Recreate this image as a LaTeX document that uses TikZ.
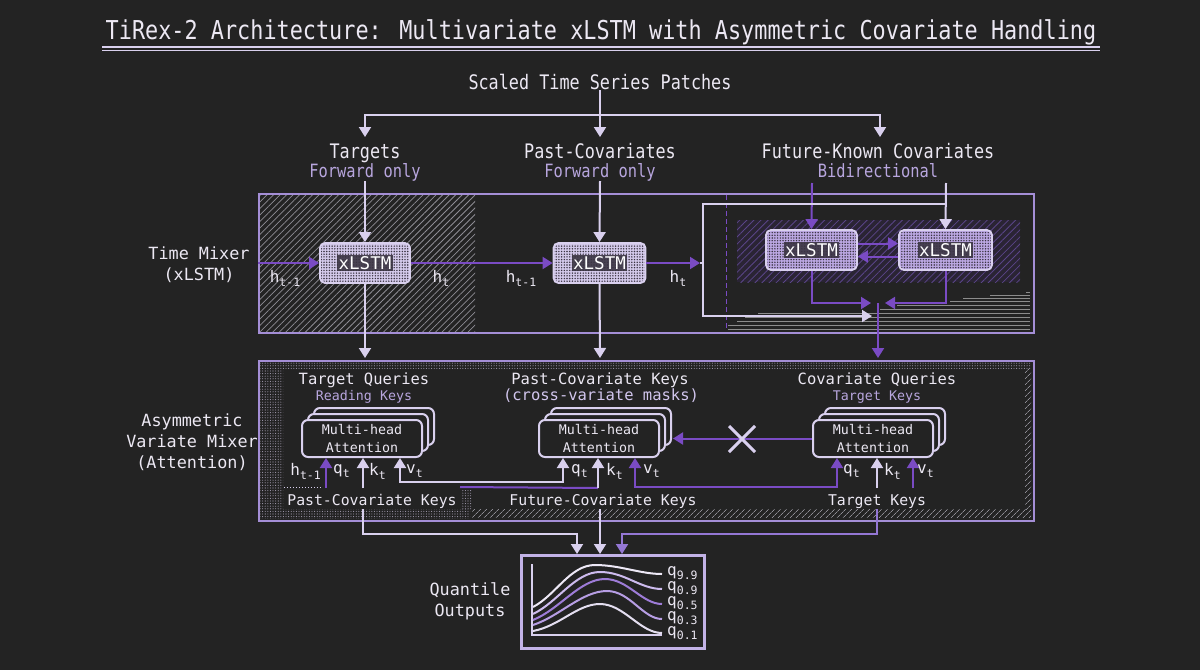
\documentclass[tikz,border=0pt]{standalone}
\usepackage{fontspec}
\setmainfont{DejaVu Sans Mono}
\newfontfamily\condfont[FakeStretch=0.84]{DejaVu Sans Mono}
\usetikzlibrary{arrows.meta,patterns,patterns.meta,calc}
\definecolor{bgc}{HTML}{232323}
\definecolor{txt}{HTML}{ECE8F3}
\definecolor{lavline}{HTML}{D9D0EE}
\definecolor{frame}{HTML}{A48ED6}
\definecolor{qframe}{HTML}{C2B2E6}
\definecolor{pur}{HTML}{7A4BC4}
\definecolor{mpur}{HTML}{9477D4}
\definecolor{subtxt}{HTML}{B8A6DE}
\definecolor{subtxtb}{HTML}{D2C6EE}
\definecolor{hatchc}{HTML}{8E8C94}
\definecolor{phatch}{HTML}{5A4588}
\definecolor{pfill}{HTML}{2A2434}
\definecolor{boxlav}{HTML}{D3C9EA}
\definecolor{boxpur}{HTML}{BBA7E2}
\definecolor{dotc}{HTML}{3A3442}
\definecolor{dotband}{HTML}{A39CB0}
\definecolor{stripe}{HTML}{8C8C8C}
\definecolor{cq1}{HTML}{EDE8F6}
\definecolor{cq2}{HTML}{CDBBEE}
\definecolor{cq3}{HTML}{9E7CD8}
\definecolor{cq4}{HTML}{B79EE4}
\definecolor{cq5}{HTML}{E4DEF0}
\newcommand\szTitle{\condfont\fontsize{26}{30}\selectfont}
\newcommand\szTop{\condfont\fontsize{20}{24}\selectfont}
\newcommand\szTopSub{\condfont\fontsize{18.3}{22}\selectfont}
\newcommand\szLab{\fontsize{16.8}{21}\selectfont}
\newcommand\szMid{\fontsize{15.5}{19}\selectfont}
\newcommand\szKey{\fontsize{14.8}{18}\selectfont}
\newcommand\szSmall{\fontsize{13.3}{18}\selectfont}
\newcommand\lowsub[1]{\raisebox{-0.45ex}{\fontsize{11.5}{12}\selectfont #1}}
\tikzset{
  tip/.style={-{Triangle[length=10pt,width=12pt]}},
  twotip/.style={{Triangle[length=10pt,width=12pt]}-{Triangle[length=10pt,width=12pt]}},
  lw/.style={line width=2pt},
  larr/.style={tip, lw, draw=lavline},
  parr/.style={tip, lw, draw=pur},
  marr/.style={tip, lw, draw=mpur},
  lline/.style={lw, draw=lavline},
  pline/.style={lw, draw=pur},
  ltwo/.style={twotip, lw, draw=lavline},
  ptwo/.style={twotip, lw, draw=pur},
  lab/.style={text=txt, font=\szLab, align=center, inner sep=1pt},
  toplab/.style={text=txt, font=\szTop, inner sep=1pt},
  topsub/.style={text=subtxt, font=\szTopSub, inner sep=1pt},
  sublab/.style={text=subtxt, font=\szMid, inner sep=1pt},
  keylab/.style={text=txt, font=\szKey, inner sep=1pt},
  hlab/.style={text=txt, font=\fontsize{16}{16}\selectfont, inner sep=0pt},
  xbox/.style={draw=lavline, line width=1.8pt, rounded corners=5pt, minimum height=40pt, inner sep=0pt},
  xtext/.style={fill=dotc, fill opacity=0.9, text opacity=1, text=white, font=\fontsize{17.5}{20}\selectfont, inner sep=1.5pt},
  mha/.style={draw=lavline, line width=2pt, fill=bgc, rounded corners=6pt, minimum width=120pt, minimum height=37pt, align=center, font=\szSmall, text=txt, inner sep=0pt},
  frm/.style={draw=frame, line width=2pt, inner sep=0pt, anchor=north west},
}
\begin{document}
\begin{tikzpicture}[x=1pt,y=-1pt]
\useasboundingbox (0,0) rectangle (1200,670);
\fill[bgc] (0,0) rectangle (1200,670);

% ---------- title ----------
\node[font=\szTitle, text=txt, anchor=base, inner sep=0pt] (title) at (601,39) {TiRex-2 Architecture: Multivariate xLSTM with Asymmetric Covariate Handling};
\draw[lavline, line width=1.3pt] (102,47) -- (1100,47);
\draw[lavline, line width=1.3pt] (102,50.5) -- (1100,50.5);

% ---------- inputs ----------
\node[toplab, anchor=base] (patches) at (600,89) {Scaled Time Series Patches};
\coordinate (br) at (600,115);
\coordinate (t1) at (365,137);
\coordinate (t2) at (600,137);
\coordinate (t3) at (880,137);
\draw[larr] (patches.south) -- (t2);
\draw[larr] (br) -| (t1);
\draw[larr] (br) -| (t3);

\node[toplab, anchor=base] (tgt) at (365,158) {Targets};
\node[topsub, anchor=base] (tgtsub) at (365,177) {Forward only};
\node[toplab, anchor=base] (pc) at (600,158) {Past-Covariates};
\node[topsub, anchor=base] (pcsub) at (600,177) {Forward only};
\node[toplab, anchor=base] (fk) at (878,158) {Future-Known Covariates};
\node[topsub, anchor=base] (fksub) at (878,177) {Bidirectional};

% ---------- time mixer ----------
\node[lab] (tmlab) at (199,264.5) {Time Mixer\\(xLSTM)};
\node[frm, minimum width=775pt, minimum height=139pt] (tm) at (258,193) {};
\fill[pattern={Lines[angle=45,distance=4.6pt,line width=0.75pt]}, pattern color=hatchc] (260,195) rectangle (475,331);
\fill[pfill] (737,220) rectangle (1020,282);
\fill[pattern={Lines[angle=45,distance=5pt,line width=0.8pt]}, pattern color=phatch] (737,220) rectangle (1020,282);
\draw[pur, line width=1pt, dash pattern=on 5pt off 3pt] (726,195) -- (726,330);
\foreach \yy/\xx in {292/1026,295/990,298/963,301.5/950,305/897,309/880,313/758,317/745,321/737,325/728,329/728}
  \draw[stripe, line width=0.9pt] (\xx,\yy) -- (1030,\yy);

\node[xbox, minimum width=90pt, preaction={fill=boxlav}, pattern={Dots[radius=0.8pt,distance=2.7pt]}, pattern color=dotc] (x1) at (365,263) {};
\node[xtext] (x1t) at (x1) {xLSTM};
\node[xbox, minimum width=92pt, preaction={fill=boxlav}, pattern={Dots[radius=0.8pt,distance=2.7pt]}, pattern color=dotc] (x2) at (599.5,263) {};
\node[xtext] (x2t) at (x2) {xLSTM};
\node[xbox, minimum width=91pt, preaction={fill=boxpur}, pattern={Dots[radius=0.8pt,distance=2.7pt]}, pattern color=dotc] (xA) at (811.5,250) {};
\node[xtext] (xAt) at (xA) {xLSTM};
\node[xbox, minimum width=93pt, preaction={fill=boxpur}, pattern={Dots[radius=0.8pt,distance=2.7pt]}, pattern color=dotc] (xB) at (945.5,250) {};
\node[xtext] (xBt) at (xB) {xLSTM};

\coordinate (c1) at (365,181);
\coordinate (c2) at (600,181);
\coordinate (cA) at (812,183);
\coordinate (cB) at (946,183);
\draw[larr] (c1) -- (x1.north);
\draw[larr] (c2) -- (x2.north);
\draw[parr] (cA) -- (xA.north);
\draw[larr] (cB) -- (xB.north);

\draw[parr] (tm.west |- x1.west) -- (x1.west);
\draw[parr] (x1.east) -- (x2.west);
\coordinate (hend) at (700,263);
\draw[parr] (x2.east) -- (hend);
\node[hlab] (h1) at (285,278) {h\lowsub{t-1}};
\node[hlab] (h2) at (441,278) {h\lowsub{t}};
\node[hlab] (h3) at (521,278) {h\lowsub{t-1}};
\node[hlab] (h4) at (678,278) {h\lowsub{t}};

\coordinate (wr) at (946,204);
\coordinate (wend) at (872,316);
\draw[larr] (wr) -| (703,316) -- (wend);
\draw[lline] (hend) -- (703,263);

\draw[parr] ($(xA.east)+(0,-6.5)$) -- ($(xB.west)+(0,-6.5)$);
\draw[parr] ($(xB.west)+(0,6.5)$) -- ($(xA.east)+(0,6.5)$);
\coordinate (mg) at (878,303);
\draw[parr] (xA.south) |- (871,303);
\draw[parr] (xB.south) |- (885,303);

% ---------- attention ----------
\node[lab] (amlab) at (192,442) {Asymmetric\\Variate Mixer\\(Attention)};
\node[frm, minimum width=775pt, minimum height=160pt] (am) at (258,360) {};
\fill[pattern={Dots[radius=0.55pt,distance=2.6pt]}, pattern color=dotband] (260,362) rectangle (283,518);
\fill[pattern={Dots[radius=0.55pt,distance=2.6pt]}, pattern color=dotband] (283,362) rectangle (1031,368);
\fill[pattern={Dots[radius=0.55pt,distance=2.6pt]}, pattern color=dotband] (283,509) rectangle (470,518);
\fill[pattern={Dots[radius=0.55pt,distance=2.6pt]}, pattern color=dotband] (461,489) rectangle (472,509);
\fill[pattern={Lines[angle=45,distance=4pt,line width=0.7pt]}, pattern color=hatchc] (472,509) rectangle (1031,517);
\fill[pattern={Lines[angle=45,distance=4pt,line width=0.7pt]}, pattern color=hatchc] (1025,368) rectangle (1031,509);
\draw[lavline, line width=1pt, dotted] (284,487) -- (323,487);

\coordinate (d1) at (365,358);
\coordinate (d2) at (600,358);
\coordinate (d3) at (878,358);
\draw[larr] (x1.south) -- (d1);
\draw[larr] (x2.south) -- (d2);
\draw[parr] (mg) -- (d3);

\node[lab, font=\szMid, anchor=base] (tq) at (364,384) {Target Queries};
\node[sublab, font=\szSmall, anchor=base] (tqs) at (364,400) {Reading Keys};
\node[lab, font=\szMid, anchor=base] (pk) at (600,384) {Past-Covariate Keys};
\node[sublab, text=subtxtb, anchor=base] (pks) at (601,400) {(cross-variate masks)};
\node[lab, font=\szMid, anchor=base] (cq) at (877,384) {Covariate Queries};
\node[sublab, font=\szSmall, anchor=base] (cqs) at (877,400) {Target Keys};

\node[mha] (a1c) at (374,426.5) {};
\node[mha] (a1b) at (368,432.5) {};
\node[mha] (a1) at (362,438.5) {Multi-head\\Attention};
\node[mha] (a2c) at (611,426.5) {};
\node[mha] (a2b) at (605,432.5) {};
\node[mha] (a2) at (599,438.5) {Multi-head\\Attention};
\node[mha] (a3c) at (885,426.5) {};
\node[mha] (a3b) at (879,432.5) {};
\node[mha] (a3) at (873,438.5) {Multi-head\\Attention};

\draw[parr] (a3.west) -- ($(a2.east)+(13,0)$);
\draw[lavline, line width=3pt] (729,426) -- (755,452) (729,452) -- (755,426);

% inputs of attention blocks
\coordinate (q1) at (326,488);
\coordinate (k1) at (363,488);
\coordinate (v1) at (400,482);
\coordinate (q2) at (563,482);
\coordinate (k2) at (598,488);
\coordinate (v2) at (635,487);
\coordinate (q3) at (837,487);
\coordinate (k3) at (877,488);
\coordinate (v3) at (913,488);
\draw[parr] (q1) -- (q1 |- a1.south);
\draw[larr] (k1) -- (k1 |- a1.south);
\draw[ltwo] (v1 |- a1.south) -- (v1) -- (q2) -- (q2 |- a2.south);
\draw[pline] (460,487) -- (k2);
\draw[larr] (k2) -- (k2 |- a2.south);
\draw[ptwo] (v2 |- a2.south) -- (v2) -- (q3) -- (q3 |- a3.south);
\draw[larr] (k3) -- (k3 |- a3.south);
\draw[parr] (v3) -- (v3 |- a3.south);

\node[hlab, anchor=east] (hq1) at (321,471) {h\lowsub{t-1}};
\node[hlab, anchor=west] (lq1) at (333,471) {q\lowsub{t}};
\node[hlab, anchor=west] (lk1) at (369,471) {k\lowsub{t}};
\node[hlab, anchor=west] (lv1) at (406,471) {v\lowsub{t}};
\node[hlab, anchor=west] (lq2) at (571,471) {q\lowsub{t}};
\node[hlab, anchor=west] (lk2) at (606,471) {k\lowsub{t}};
\node[hlab, anchor=west] (lv2) at (643,471) {v\lowsub{t}};
\node[hlab, anchor=west] (lq3) at (843,471) {q\lowsub{t}};
\node[hlab, anchor=west] (lk3) at (884,471) {k\lowsub{t}};
\node[hlab, anchor=west] (lv3) at (917,471) {v\lowsub{t}};

\node[keylab, anchor=base] (bk1) at (372,505) {Past-Covariate Keys};
\node[keylab, anchor=base] (bk2) at (603,505) {Future-Covariate Keys};
\node[keylab, anchor=base] (bk3) at (877,505) {Target Keys};

% ---------- outputs ----------
\node[draw=qframe, line width=2.5pt, minimum width=183pt, minimum height=93pt, anchor=north west, inner sep=0pt] (qo) at (520,554) {};
\node[lab] (qolab) at (470,601) {Quantile\\Outputs};
\coordinate (o1) at (363,509);
\coordinate (o2) at (600,509);
\coordinate (o3) at (877,509);
\coordinate (p1) at (577,534);
\coordinate (p3) at (622,534);
\draw[larr] (o1) |- (p1) -- (p1 |- qo.north);
\draw[larr] (o2) -- (o2 |- qo.north);
\draw[marr] (o3) |- (p3) -- (p3 |- qo.north);

\draw[lavline, line width=1.8pt] (532,564) -- (532,635) -- (662,635);
\draw[cq1, line width=2pt] (533,607) .. controls (556,595) and (570,565) .. (595,565) .. controls (620,565) and (640,574) .. (662,574);
\draw[cq2, line width=2pt] (533,614) .. controls (558,602) and (575,572) .. (600,572) .. controls (625,572) and (640,589) .. (662,589);
\draw[cq3, line width=2pt] (533,620) .. controls (560,609) and (580,579) .. (605,579) .. controls (628,579) and (642,604) .. (662,604);
\draw[cq4, line width=2pt] (533,625) .. controls (560,616) and (582,591) .. (607,591) .. controls (630,591) and (643,619) .. (662,619);
\draw[cq5, line width=2pt] (533,631) .. controls (560,626) and (577,604) .. (600,604) .. controls (624,604) and (640,633) .. (662,633);
\node[hlab, anchor=west] (l1) at (667,573) {q\lowsub{9.9}};
\node[hlab, anchor=west] (l2) at (667,588) {q\lowsub{0.9}};
\node[hlab, anchor=west] (l3) at (667,603) {q\lowsub{0.5}};
\node[hlab, anchor=west] (l4) at (667,618) {q\lowsub{0.3}};
\node[hlab, anchor=west] (l5) at (667,633) {q\lowsub{0.1}};
\end{tikzpicture}
\end{document}
